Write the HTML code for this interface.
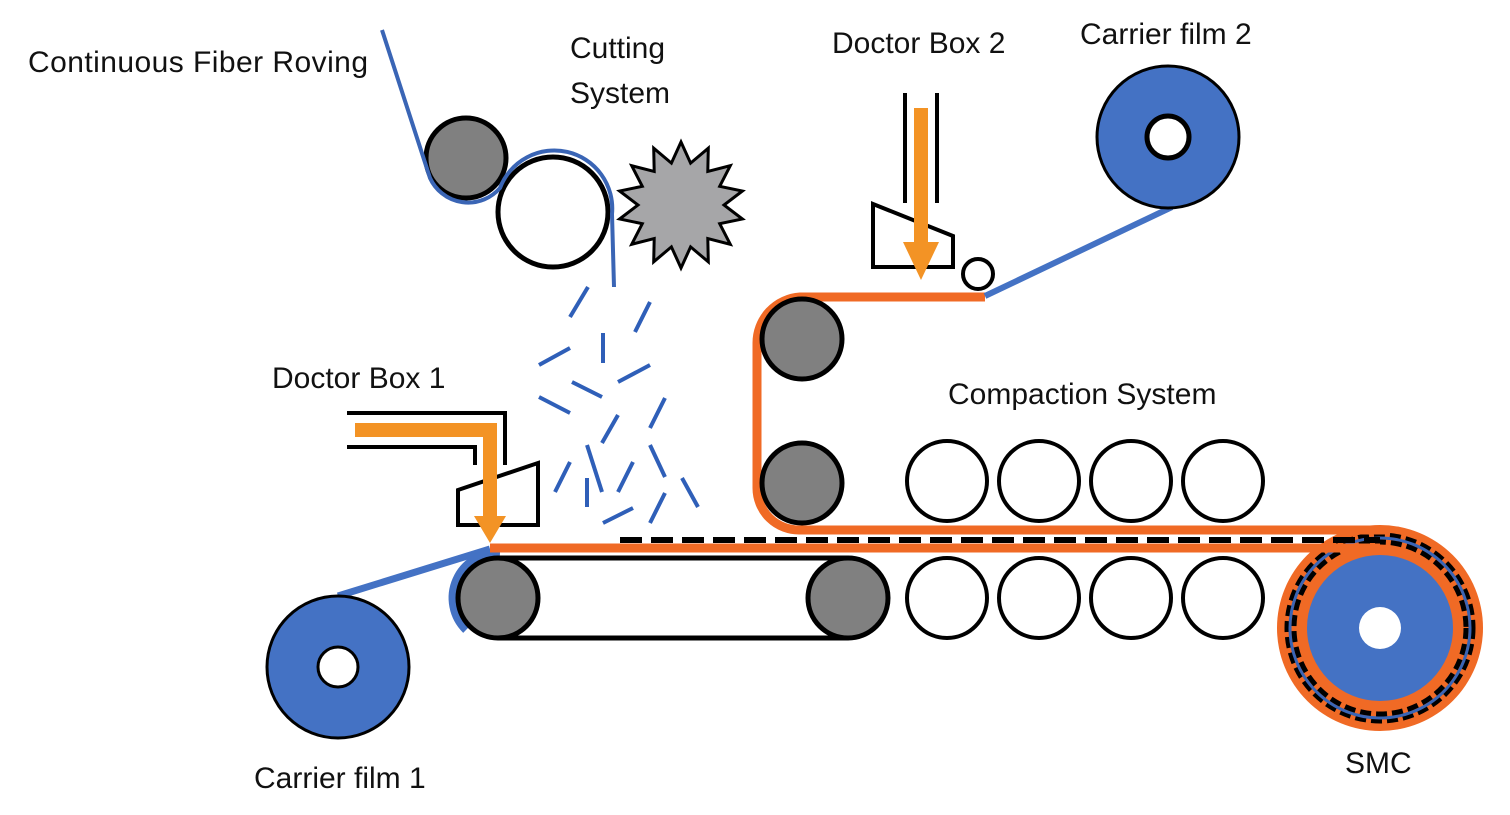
<!DOCTYPE html>
<html><head><meta charset="utf-8"><style>
html,body{margin:0;padding:0;background:#fff;}
svg{display:block}
text{font-family:"Liberation Sans",Arial,sans-serif;font-size:30px;fill:#111;}
</style></head><body>
<svg width="1510" height="815" viewBox="0 0 1510 815" xmlns="http://www.w3.org/2000/svg">
<!-- labels -->
<text x="28" y="72" textLength="340">Continuous Fiber Roving</text>
<text x="570" y="58">Cutting</text>
<text x="570" y="103">System</text>
<text x="832" y="53">Doctor Box 2</text>
<text x="1080" y="44">Carrier film 2</text>
<text x="272" y="388">Doctor Box 1</text>
<text x="948" y="404">Compaction System</text>
<text x="254" y="788">Carrier film 1</text>
<text x="1345" y="773">SMC</text>

<!-- fiber roving -->
<circle cx="466" cy="158" r="40" fill="#808080" stroke="#000" stroke-width="5"/>
<circle cx="553" cy="212" r="55" fill="#fff" stroke="#000" stroke-width="5"/>
<path d="M382,30 L430,178 A42,42 0 0 0 500,188 A58,58 0 0 1 612,214 L614,287" fill="none" stroke="#3a65b5" stroke-width="4"/>
<!-- star -->
<polygon id="star" fill="#a6a6a8" stroke="#000" stroke-width="3" points=""/>
<!-- chopped fibers -->
<g stroke="#2f5fb8" stroke-width="4" stroke-linecap="butt">
<line x1="588" y1="287" x2="570" y2="317"/>
<line x1="650" y1="302" x2="635" y2="332"/>
<line x1="539" y1="365" x2="570" y2="348"/>
<line x1="603" y1="333" x2="603" y2="363"/>
<line x1="618" y1="382" x2="650" y2="365"/>
<line x1="572" y1="382" x2="602" y2="397"/>
<line x1="539" y1="397" x2="570" y2="413"/>
<line x1="665" y1="398" x2="650" y2="428"/>
<line x1="618" y1="415" x2="602" y2="443"/>
<line x1="587" y1="445" x2="602" y2="492"/>
<line x1="650" y1="445" x2="665" y2="477"/>
<line x1="570" y1="462" x2="555" y2="492"/>
<line x1="587" y1="478" x2="587" y2="507"/>
<line x1="633" y1="462" x2="618" y2="492"/>
<line x1="665" y1="493" x2="650" y2="523"/>
<line x1="682" y1="478" x2="698" y2="507"/>
<line x1="633" y1="508" x2="603" y2="523"/>
</g>

<!-- doctor box 1 -->
<polyline points="347,413 505,413 505,465" fill="none" stroke="#000" stroke-width="4"/>
<polyline points="347,447 475,447 475,465" fill="none" stroke="#000" stroke-width="4"/>
<polygon points="458,490 538,463 538,525 458,525" fill="#fff" stroke="#000" stroke-width="4"/>
<polyline points="355,430 490,430 490,518" fill="none" stroke="#f39325" stroke-width="14"/>
<polygon points="474,516 506,516 490,543" fill="#f39325"/>

<!-- carrier film 1 -->
<path d="M338,596 L490,549" fill="none" stroke="#4472c4" stroke-width="7"/>
<path d="M500,553 A45,45 0 0 0 466,630" fill="none" stroke="#4472c4" stroke-width="8"/>
<circle cx="338" cy="667" r="71" fill="#4472c4" stroke="#000" stroke-width="3"/>
<circle cx="338" cy="667" r="20" fill="#fff" stroke="#000" stroke-width="3"/>

<!-- belt -->
<path d="M498,558 L848,558 M498,638 L848,638" stroke="#000" stroke-width="5"/>
<circle cx="498" cy="598" r="40" fill="#808080" stroke="#000" stroke-width="5"/>
<circle cx="848" cy="598" r="40" fill="#808080" stroke="#000" stroke-width="5"/>

<!-- SMC roll -->
<circle cx="1380" cy="628" r="103" fill="#f06a25"/>
<circle cx="1380" cy="628" r="93" fill="none" stroke="#000" stroke-width="5" stroke-dasharray="11,5"/>
<circle cx="1380" cy="628" r="90" fill="none" stroke="#3a65b5" stroke-width="3"/>
<circle cx="1380" cy="628" r="86" fill="none" stroke="#000" stroke-width="5" stroke-dasharray="11,5"/>
<circle cx="1380" cy="628" r="73" fill="#4472c4"/>
<circle cx="1380" cy="628" r="21" fill="#fff"/>

<!-- lower orange film -->
<line x1="490" y1="548" x2="1380" y2="548" stroke="#f06a25" stroke-width="9"/>
<line x1="620" y1="540" x2="1380" y2="540" stroke="#000" stroke-width="6" stroke-dasharray="22,9"/>

<!-- upper orange film -->
<path d="M985,297 L800,297 A46,46 0 0 0 757,343 L757,488 A42,42 0 0 0 800,530 L1390,530" fill="none" stroke="#f06a25" stroke-width="9"/>
<circle cx="802" cy="339" r="40" fill="#808080" stroke="#000" stroke-width="5"/>
<circle cx="802" cy="483" r="40" fill="#808080" stroke="#000" stroke-width="5"/>

<!-- compaction rollers -->
<g fill="#fff" stroke="#000" stroke-width="4">
<circle cx="947" cy="481" r="40"/><circle cx="1039" cy="481" r="40"/><circle cx="1131" cy="481" r="40"/><circle cx="1223" cy="481" r="40"/>
<circle cx="947" cy="598" r="40"/><circle cx="1039" cy="598" r="40"/><circle cx="1131" cy="598" r="40"/><circle cx="1223" cy="598" r="40"/>
</g>

<!-- doctor box 2 -->
<line x1="905" y1="93" x2="905" y2="203" stroke="#000" stroke-width="4"/>
<line x1="937" y1="93" x2="937" y2="203" stroke="#000" stroke-width="4"/>
<polygon points="873,204 953,236 953,267 873,267" fill="#fff" stroke="#000" stroke-width="4"/>
<line x1="921" y1="108" x2="921" y2="245" stroke="#f39325" stroke-width="14"/>
<polygon points="903,242 939,242 921,280" fill="#f39325"/>
<circle cx="978" cy="274" r="15" fill="#fff" stroke="#000" stroke-width="4"/>

<!-- carrier film 2 -->
<line x1="985" y1="296" x2="1172" y2="207" stroke="#4472c4" stroke-width="6"/>
<circle cx="1168" cy="137" r="71" fill="#4472c4" stroke="#000" stroke-width="3"/>
<circle cx="1168" cy="137" r="21" fill="#fff" stroke="#000" stroke-width="5"/>
</svg>
<script>
(function(){var cx=681,cy=205,R=63,r=43,n=14,p=[];for(var i=0;i<2*n;i++){var a=Math.PI*i/n-Math.PI/2,rr=i%2?r:R;p.push((cx+rr*Math.cos(a)).toFixed(1)+","+(cy+rr*Math.sin(a)).toFixed(1));}document.getElementById("star").setAttribute("points",p.join(" "));})();
</script>
</body></html>
